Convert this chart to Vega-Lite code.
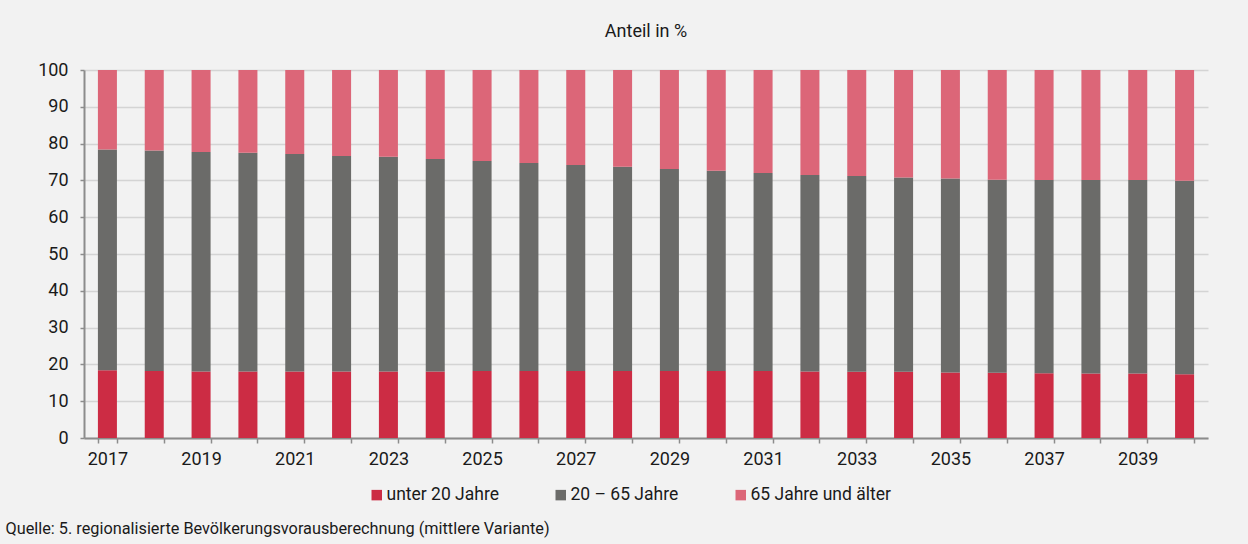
{
  "$schema": "https://vega.github.io/schema/vega-lite/v6.json",
  "width": 1124,
  "height": 368,
  "autosize": {"type": "none"},
  "padding": {"left": 84, "top": 70, "right": 40, "bottom": 106},
  "background": "#f2f2f2",
  "config": {
    "font": "Roboto",
    "view": {"stroke": null},
    "axis": {"labelColor": "#1a1a1a", "labelFontSize": 18, "titleColor": "#1a1a1a"}
  },
  "title": {
    "text": "Anteil in %",
    "anchor": "middle",
    "frame": "group",
    "fontSize": 18,
    "fontWeight": "normal",
    "color": "#1a1a1a",
    "baseline": "alphabetic",
    "offset": 6
  },
  "data": {
    "values": [
      {"Jahr": 2017, "Gruppe": "unter 20 Jahre", "Anteil": 18.4, "k": 1},
      {"Jahr": 2017, "Gruppe": "20 – 65 Jahre", "Anteil": 60.0, "k": 2},
      {"Jahr": 2017, "Gruppe": "65 Jahre und älter", "Anteil": 21.6, "k": 3},
      {"Jahr": 2018, "Gruppe": "unter 20 Jahre", "Anteil": 18.2, "k": 1},
      {"Jahr": 2018, "Gruppe": "20 – 65 Jahre", "Anteil": 59.9, "k": 2},
      {"Jahr": 2018, "Gruppe": "65 Jahre und älter", "Anteil": 21.9, "k": 3},
      {"Jahr": 2019, "Gruppe": "unter 20 Jahre", "Anteil": 18.1, "k": 1},
      {"Jahr": 2019, "Gruppe": "20 – 65 Jahre", "Anteil": 59.6, "k": 2},
      {"Jahr": 2019, "Gruppe": "65 Jahre und älter", "Anteil": 22.3, "k": 3},
      {"Jahr": 2020, "Gruppe": "unter 20 Jahre", "Anteil": 18.1, "k": 1},
      {"Jahr": 2020, "Gruppe": "20 – 65 Jahre", "Anteil": 59.4, "k": 2},
      {"Jahr": 2020, "Gruppe": "65 Jahre und älter", "Anteil": 22.5, "k": 3},
      {"Jahr": 2021, "Gruppe": "unter 20 Jahre", "Anteil": 18.1, "k": 1},
      {"Jahr": 2021, "Gruppe": "20 – 65 Jahre", "Anteil": 59.1, "k": 2},
      {"Jahr": 2021, "Gruppe": "65 Jahre und älter", "Anteil": 22.8, "k": 3},
      {"Jahr": 2022, "Gruppe": "unter 20 Jahre", "Anteil": 18.1, "k": 1},
      {"Jahr": 2022, "Gruppe": "20 – 65 Jahre", "Anteil": 58.5, "k": 2},
      {"Jahr": 2022, "Gruppe": "65 Jahre und älter", "Anteil": 23.4, "k": 3},
      {"Jahr": 2023, "Gruppe": "unter 20 Jahre", "Anteil": 18.1, "k": 1},
      {"Jahr": 2023, "Gruppe": "20 – 65 Jahre", "Anteil": 58.3, "k": 2},
      {"Jahr": 2023, "Gruppe": "65 Jahre und älter", "Anteil": 23.6, "k": 3},
      {"Jahr": 2024, "Gruppe": "unter 20 Jahre", "Anteil": 18.1, "k": 1},
      {"Jahr": 2024, "Gruppe": "20 – 65 Jahre", "Anteil": 57.7, "k": 2},
      {"Jahr": 2024, "Gruppe": "65 Jahre und älter", "Anteil": 24.2, "k": 3},
      {"Jahr": 2025, "Gruppe": "unter 20 Jahre", "Anteil": 18.2, "k": 1},
      {"Jahr": 2025, "Gruppe": "20 – 65 Jahre", "Anteil": 57.1, "k": 2},
      {"Jahr": 2025, "Gruppe": "65 Jahre und älter", "Anteil": 24.7, "k": 3},
      {"Jahr": 2026, "Gruppe": "unter 20 Jahre", "Anteil": 18.2, "k": 1},
      {"Jahr": 2026, "Gruppe": "20 – 65 Jahre", "Anteil": 56.5, "k": 2},
      {"Jahr": 2026, "Gruppe": "65 Jahre und älter", "Anteil": 25.3, "k": 3},
      {"Jahr": 2027, "Gruppe": "unter 20 Jahre", "Anteil": 18.2, "k": 1},
      {"Jahr": 2027, "Gruppe": "20 – 65 Jahre", "Anteil": 56.0, "k": 2},
      {"Jahr": 2027, "Gruppe": "65 Jahre und älter", "Anteil": 25.8, "k": 3},
      {"Jahr": 2028, "Gruppe": "unter 20 Jahre", "Anteil": 18.2, "k": 1},
      {"Jahr": 2028, "Gruppe": "20 – 65 Jahre", "Anteil": 55.5, "k": 2},
      {"Jahr": 2028, "Gruppe": "65 Jahre und älter", "Anteil": 26.3, "k": 3},
      {"Jahr": 2029, "Gruppe": "unter 20 Jahre", "Anteil": 18.2, "k": 1},
      {"Jahr": 2029, "Gruppe": "20 – 65 Jahre", "Anteil": 54.9, "k": 2},
      {"Jahr": 2029, "Gruppe": "65 Jahre und älter", "Anteil": 26.9, "k": 3},
      {"Jahr": 2030, "Gruppe": "unter 20 Jahre", "Anteil": 18.2, "k": 1},
      {"Jahr": 2030, "Gruppe": "20 – 65 Jahre", "Anteil": 54.4, "k": 2},
      {"Jahr": 2030, "Gruppe": "65 Jahre und älter", "Anteil": 27.4, "k": 3},
      {"Jahr": 2031, "Gruppe": "unter 20 Jahre", "Anteil": 18.2, "k": 1},
      {"Jahr": 2031, "Gruppe": "20 – 65 Jahre", "Anteil": 53.8, "k": 2},
      {"Jahr": 2031, "Gruppe": "65 Jahre und älter", "Anteil": 28.0, "k": 3},
      {"Jahr": 2032, "Gruppe": "unter 20 Jahre", "Anteil": 18.1, "k": 1},
      {"Jahr": 2032, "Gruppe": "20 – 65 Jahre", "Anteil": 53.4, "k": 2},
      {"Jahr": 2032, "Gruppe": "65 Jahre und älter", "Anteil": 28.5, "k": 3},
      {"Jahr": 2033, "Gruppe": "unter 20 Jahre", "Anteil": 18.0, "k": 1},
      {"Jahr": 2033, "Gruppe": "20 – 65 Jahre", "Anteil": 53.2, "k": 2},
      {"Jahr": 2033, "Gruppe": "65 Jahre und älter", "Anteil": 28.8, "k": 3},
      {"Jahr": 2034, "Gruppe": "unter 20 Jahre", "Anteil": 18.0, "k": 1},
      {"Jahr": 2034, "Gruppe": "20 – 65 Jahre", "Anteil": 52.8, "k": 2},
      {"Jahr": 2034, "Gruppe": "65 Jahre und älter", "Anteil": 29.2, "k": 3},
      {"Jahr": 2035, "Gruppe": "unter 20 Jahre", "Anteil": 17.8, "k": 1},
      {"Jahr": 2035, "Gruppe": "20 – 65 Jahre", "Anteil": 52.7, "k": 2},
      {"Jahr": 2035, "Gruppe": "65 Jahre und älter", "Anteil": 29.5, "k": 3},
      {"Jahr": 2036, "Gruppe": "unter 20 Jahre", "Anteil": 17.7, "k": 1},
      {"Jahr": 2036, "Gruppe": "20 – 65 Jahre", "Anteil": 52.5, "k": 2},
      {"Jahr": 2036, "Gruppe": "65 Jahre und älter", "Anteil": 29.8, "k": 3},
      {"Jahr": 2037, "Gruppe": "unter 20 Jahre", "Anteil": 17.6, "k": 1},
      {"Jahr": 2037, "Gruppe": "20 – 65 Jahre", "Anteil": 52.5, "k": 2},
      {"Jahr": 2037, "Gruppe": "65 Jahre und älter", "Anteil": 29.9, "k": 3},
      {"Jahr": 2038, "Gruppe": "unter 20 Jahre", "Anteil": 17.5, "k": 1},
      {"Jahr": 2038, "Gruppe": "20 – 65 Jahre", "Anteil": 52.6, "k": 2},
      {"Jahr": 2038, "Gruppe": "65 Jahre und älter", "Anteil": 29.9, "k": 3},
      {"Jahr": 2039, "Gruppe": "unter 20 Jahre", "Anteil": 17.5, "k": 1},
      {"Jahr": 2039, "Gruppe": "20 – 65 Jahre", "Anteil": 52.6, "k": 2},
      {"Jahr": 2039, "Gruppe": "65 Jahre und älter", "Anteil": 29.9, "k": 3},
      {"Jahr": 2040, "Gruppe": "unter 20 Jahre", "Anteil": 17.3, "k": 1},
      {"Jahr": 2040, "Gruppe": "20 – 65 Jahre", "Anteil": 52.6, "k": 2},
      {"Jahr": 2040, "Gruppe": "65 Jahre und älter", "Anteil": 30.1, "k": 3}
    ]
  },
  "mark": {"type": "bar"},
  "encoding": {
    "x": {
      "field": "Jahr",
      "type": "ordinal",
      "scale": {"paddingInner": 0.594, "paddingOuter": 0.297},
      "axis": {
        "title": "Quelle: 5. regionalisierte Bevölkerungsvorausberechnung (mittlere Variante)",
        "titleX": -79,
        "titleY": 95,
        "titleAlign": "left",
        "titleAnchor": "start",
        "titleBaseline": "alphabetic",
        "titleFontSize": 16.3,
        "titleFontWeight": "normal",
        "labelAngle": 0,
        "labelExpr": "datum.value % 2 == 1 ? datum.label : ''",
        "labelOverlap": false,
        "labelPadding": 7,
        "tickBand": "extent",
        "tickSize": 5,
        "tickColor": "#8c8c8c",
        "tickWidth": 1.5,
        "domainColor": "#8c8c8c",
        "domainWidth": 2
      }
    },
    "y": {
      "field": "Anteil",
      "type": "quantitative",
      "stack": "zero",
      "scale": {"domain": [0, 100], "nice": false},
      "axis": {
        "title": null,
        "values": [0, 10, 20, 30, 40, 50, 60, 70, 80, 90, 100],
        "grid": true,
        "gridColor": "#d4d4d4",
        "gridWidth": 1.5,
        "tickSize": 4,
        "tickColor": "#8c8c8c",
        "tickWidth": 1.5,
        "domainColor": "#8c8c8c",
        "domainWidth": 2,
        "labelPadding": 12
      }
    },
    "color": {
      "field": "Gruppe",
      "type": "nominal",
      "scale": {
        "domain": ["unter 20 Jahre", "20 – 65 Jahre", "65 Jahre und älter"],
        "range": ["#cc2c44", "#6b6b69", "#dc6678"]
      },
      "legend": {
        "title": null,
        "orient": "none",
        "direction": "horizontal",
        "legendX": 284,
        "legendY": 416,
        "symbolType": "square",
        "symbolSize": 110,
        "symbolStrokeWidth": 0,
        "symbolOpacity": 1,
        "labelFontSize": 17.5,
        "labelColor": "#1a1a1a",
        "labelOffset": 1,
        "columnPadding": 53,
        "padding": 0
      }
    },
    "order": {"field": "k", "type": "quantitative"}
  }
}
